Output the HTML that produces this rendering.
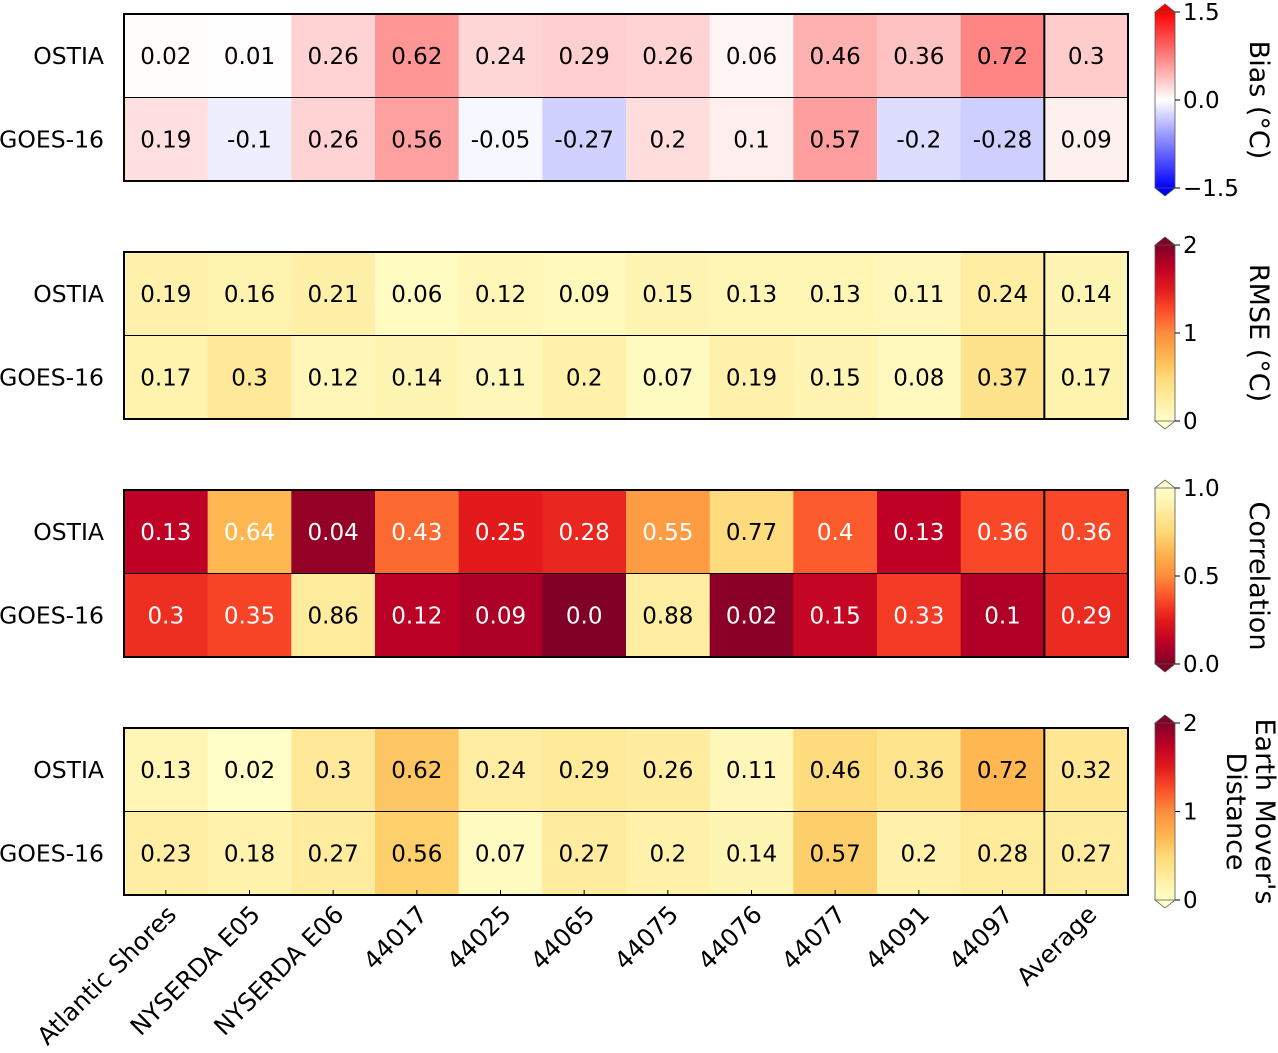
<!DOCTYPE html>
<html><head><meta charset="utf-8"><style>
html,body{margin:0;padding:0;background:#fff;}
svg{display:block;font-family:"DejaVu Sans","Liberation Sans",sans-serif;}
</style></head><body>
<svg id="chart" width="1278" height="1053" xmlns="http://www.w3.org/2000/svg"></svg>
<script>
const stations = ["Atlantic Shores","NYSERDA E05","NYSERDA E06","44017","44025","44065","44075","44076","44077","44091","44097","Average"];
const products = ["OSTIA","GOES-16"];
const biasOstia = [0.02,0.01,0.26,0.62,0.24,0.29,0.26,0.06,0.46,0.36,0.72,0.3];
const biasGoes = [0.19,-0.1,0.26,0.56,-0.05,-0.27,0.2,0.1,0.57,-0.2,-0.28,0.09];
const rmseOstia = [0.19,0.16,0.21,0.06,0.12,0.09,0.15,0.13,0.13,0.11,0.24,0.14];
const rmseGoes = [0.17,0.3,0.12,0.14,0.11,0.2,0.07,0.19,0.15,0.08,0.37,0.17];
const corrOstia = [0.13,0.64,0.04,0.43,0.25,0.28,0.55,0.77,0.4,0.13,0.36,0.36];
const corrGoes = [0.3,0.35,0.86,0.12,0.09,0.0,0.88,0.02,0.15,0.33,0.1,0.29];
const emdOstia = [0.13,0.02,0.3,0.62,0.24,0.29,0.26,0.11,0.46,0.36,0.72,0.32];
const emdGoes = [0.23,0.18,0.27,0.56,0.07,0.27,0.2,0.14,0.57,0.2,0.28,0.27];
const biasTicks = ["1.5","0.0","\u22121.5"];
const rmseTicks = ["2","1","0"];
const corrTicks = ["1.0","0.5","0.0"];
const emdTicks = ["2","1","0"];

const NS="http://www.w3.org/2000/svg";
const svg=document.getElementById('chart');
function mk(tag,attrs,parent){const e=document.createElementNS(NS,tag);for(const k in attrs)e.setAttribute(k,attrs[k]);(parent||svg).appendChild(e);return e;}
function hex(h){return [parseInt(h.slice(1,3),16),parseInt(h.slice(3,5),16),parseInt(h.slice(5,7),16)];}
function interp(stops,t){t=Math.max(0,Math.min(1,t));const n=stops.length-1;const i=Math.min(n-1,Math.floor(t*n));const f=t*n-i;const a=hex(stops[i]),b=hex(stops[i+1]);return `rgb(${a.map((v,k)=>Math.round(v+(b[k]-v)*f)).join(',')})`;}
const ylorrd=["#ffffcc","#ffeda0","#fed976","#feb24c","#fd8d3c","#fc4e2a","#e31a1c","#bd0026","#800026"];
const bwr=["#0000ff","#ffffff","#ff0000"];
const cmaps={
 bias:v=>interp(bwr,(v+1.5)/3),
 rmse:v=>interp(ylorrd,v/2),
 corr:v=>interp(ylorrd,1-v),
 emd:v=>interp(ylorrd,v/2)
};
const X0=124,X1=1128,CW=(X1-X0)/12,PH=167;
const panels=[
 {key:'bias',top:14,cb:[12,188],rows:[biasOstia,biasGoes],ticks:biasTicks,tickVals:[1.5,0,-1.5],lo:-1.5,hi:1.5,label:["Bias (°C)"],txt:v=>'#000'},
 {key:'rmse',top:252,cb:[245,421],rows:[rmseOstia,rmseGoes],ticks:rmseTicks,tickVals:[2,1,0],lo:0,hi:2,label:["RMSE (°C)"],txt:v=>'#000'},
 {key:'corr',top:490,cb:[488,664],rows:[corrOstia,corrGoes],ticks:corrTicks,tickVals:[1,0.5,0],lo:0,hi:1,label:["Correlation"],txt:v=>v<0.7?'#fff':'#000'},
 {key:'emd',top:728,cb:[723,900],rows:[emdOstia,emdGoes],ticks:emdTicks,tickVals:[2,1,0],lo:0,hi:2,label:["Earth Mover's","Distance"],txt:v=>'#000'}
];
function fmt(v){let s=String(v);if(Number.isInteger(v))s=v.toFixed(1);return s;}
panels.forEach((p,pi)=>{
 const g=mk('g',{});
 
 
 const rh=PH/2;
 p.rows.forEach((row,ri)=>{
  row.forEach((v,ci)=>{
   const r=mk('rect',{x:X0+ci*CW,y:p.top+ri*rh,width:CW+0.5,height:rh+0.5,fill:cmaps[p.key](v)},g);
   
   
   const t=mk('text',{x:X0+(ci+0.5)*CW,y:p.top+(ri+0.5)*rh+8,'text-anchor':'middle','font-size':23,fill:p.txt(v)},g);
   t.textContent=fmt(v);
   
   
  });
  const yl=mk('text',{x:104,y:p.top+(ri+0.5)*rh+8,'text-anchor':'end','font-size':23.5,fill:'#000'},g);
  yl.textContent=products[ri];
  
  
 });
 mk('line',{x1:X0,x2:X1,y1:p.top+rh,y2:p.top+rh,stroke:'#000','stroke-width':1},g);
 mk('line',{x1:X0+11*CW,x2:X0+11*CW,y1:p.top,y2:p.top+PH,stroke:'#000','stroke-width':2},g);
 mk('rect',{x:X0,y:p.top,width:X1-X0,height:PH,fill:'none',stroke:'#000','stroke-width':2},g);
 const cb=mk('g',{});
 
 
 const cx0=1155,cx1=1175,cy0=p.cb[0],cy1=p.cb[1];
 const id='grad'+pi;
 const defs=mk('defs',{},cb);
 const lg=mk('linearGradient',{id:id,x1:0,y1:1,x2:0,y2:0},defs);
 for(let i=0;i<=20;i++){const v=p.lo+(p.hi-p.lo)*i/20;mk('stop',{offset:i/20,'stop-color':cmaps[p.key](v)},lg);}
 mk('rect',{x:cx0,y:cy0,width:cx1-cx0,height:cy1-cy0,fill:`url(#${id})`},cb);
 mk('polygon',{points:`${cx0},${cy0} ${(cx0+cx1)/2},${cy0-8} ${cx1},${cy0}`,fill:cmaps[p.key](p.hi),stroke:'#555','stroke-width':0.8},cb);
 mk('polygon',{points:`${cx0},${cy1} ${(cx0+cx1)/2},${cy1+8} ${cx1},${cy1}`,fill:cmaps[p.key](p.lo),stroke:'#555','stroke-width':0.8},cb);
 mk('line',{x1:cx0,x2:cx0,y1:cy0,y2:cy1,stroke:'#555','stroke-width':0.8},cb);
 mk('line',{x1:cx1,x2:cx1,y1:cy0,y2:cy1,stroke:'#555','stroke-width':0.8},cb);
 p.tickVals.forEach((tv,i)=>{
  const y=cy1-(tv-p.lo)/(p.hi-p.lo)*(cy1-cy0);
  mk('line',{x1:cx1,x2:cx1+5,y1:y,y2:y,stroke:'#000','stroke-width':1},cb);
  const t=mk('text',{x:cx1+8,y:y+8,'font-size':23,fill:'#000'},cb);
  t.textContent=p.ticks[i];
  
  
 });
 const midY=(cy0+cy1)/2;
 p.label.forEach((ln,li)=>{
  const lx=p.label.length>1?1256-li*29:1250;
  const t=mk('text',{x:lx,y:midY,'font-size':27,'text-anchor':'middle',transform:`rotate(90 ${lx} ${midY})`,fill:'#000'},cb);
  t.textContent=ln;
  
  
 });
});
stations.forEach((s,ci)=>{
 const cx=X0+(ci+0.5)*CW;
 mk('line',{x1:cx,x2:cx,y1:895,y2:890,stroke:'#000','stroke-width':1});
 const t=mk('text',{x:cx+12,y:916,'font-size':24.5,'text-anchor':'end',transform:`rotate(-45 ${cx+12} 916)`,fill:'#000'});
 t.textContent=s;
 
 
});
</script>
</body></html>
